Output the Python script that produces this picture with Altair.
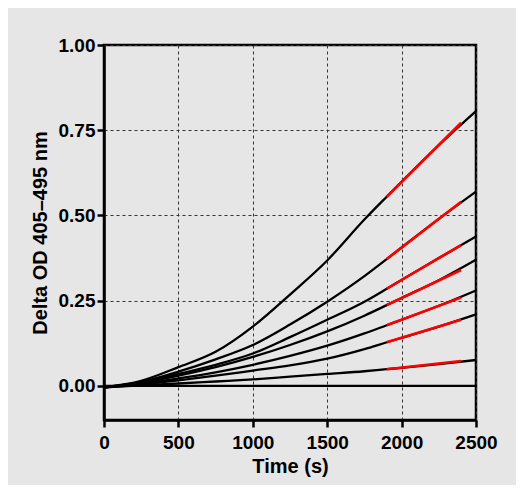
import altair as alt
import pandas as pd

times = [0, 250, 500, 750, 1000, 1250, 1500, 1750, 1900, 2000, 2250, 2500]
curve1 = [-0.004, 0.015, 0.055, 0.100, 0.174, 0.268, 0.368, 0.488, 0.555, 0.599, 0.706, 0.806]
curve2 = [-0.004, 0.012, 0.042, 0.078, 0.120, 0.180, 0.247, 0.322, 0.372, 0.406, 0.490, 0.570]
curve3 = [-0.004, 0.010, 0.035, 0.062, 0.095, 0.143, 0.194, 0.247, 0.285, 0.311, 0.375, 0.438]
curve4 = [-0.004, 0.008, 0.030, 0.055, 0.085, 0.120, 0.160, 0.206, 0.237, 0.258, 0.310, 0.370]
curve5 = [-0.004, 0.006, 0.022, 0.040, 0.062, 0.088, 0.118, 0.154, 0.178, 0.194, 0.235, 0.280]
curve6 = [-0.004, 0.004, 0.016, 0.030, 0.045, 0.060, 0.080, 0.108, 0.128, 0.141, 0.174, 0.210]
curve7 = [-0.004, 0.002, 0.007, 0.013, 0.019, 0.027, 0.035, 0.043, 0.049, 0.053, 0.064, 0.076]
curves = [curve1, curve2, curve3, curve4, curve5, curve6, curve7]

fit_times = [1900, 2400]
fit_start = [0.555, 0.372, 0.285, 0.237, 0.178, 0.128, 0.049]
fit_end = [0.772, 0.540, 0.413, 0.340, 0.259, 0.194, 0.073]

x_ticks = [0, 500, 1000, 1500, 2000, 2500]
y_ticks = [0, 0.25, 0.5, 0.75, 1.0]

rows = []
for i, c in enumerate(curves):
    for t, v in zip(times, c):
        rows.append({"series": f"s{i+1}", "t": t, "v": v})
df = pd.DataFrame(rows)

frows = []
for i, (a, b) in enumerate(zip(fit_start, fit_end)):
    frows.append({"series": f"s{i+1}", "t": fit_times[0], "v": a})
    frows.append({"series": f"s{i+1}", "t": fit_times[1], "v": b})
fdf = pd.DataFrame(frows)

FONT = "Liberation Sans"

xs = alt.Scale(domain=[0, 2500], nice=False)
ys = alt.Scale(domain=[-0.1, 1.0], nice=False)

xenc = alt.X("t:Q", scale=xs, title="Time (s)",
             axis=alt.Axis(values=x_ticks, format="d"))
yenc = alt.Y("v:Q", scale=ys, title="Delta OD 405–495 nm",
             axis=alt.Axis(values=y_ticks, format=".2f"))

lines = alt.Chart(df).mark_line(color="black", strokeWidth=2.3, interpolate="monotone").encode(
    x=xenc, y=yenc, detail="series:N"
)
fits = alt.Chart(fdf).mark_line(color="#ff0000", strokeWidth=2.6).encode(
    x="t:Q", y="v:Q", detail="series:N"
)
zero = alt.Chart(pd.DataFrame({"z": [0]})).mark_rule(color="black", strokeWidth=2.2).encode(
    y="z:Q"
)

chart = alt.layer(zero, lines, fits).properties(
    width=372, height=375,
    autosize=alt.AutoSizeParams(type="none"),
    padding={"left": 96, "top": 37, "right": 40, "bottom": 65},
    background="#e6e6e6",
).configure_view(
    stroke="black", strokeWidth=2.5, fill="#e6e6e6"
).configure_axis(
    domainColor="black", domainWidth=2.5,
    tickColor="black", tickWidth=2.5, tickSize=7,
    labelFont=FONT, labelFontWeight="bold", labelFontSize=19, labelColor="black",
    labelFlush=False, labelOverlap=False,
    titleFont=FONT, titleFontWeight="bold", titleFontSize=20, titleColor="black",
    grid=True, gridColor="#333333", gridDash=[3, 3], gridWidth=1, gridOpacity=1,
).configure_axisX(
    labelPadding=6, titlePadding=4
).configure_axisY(
    labelPadding=2, titlePadding=8
)

chart.save("out.html", embed_options={"renderer": "svg", "actions": False})
